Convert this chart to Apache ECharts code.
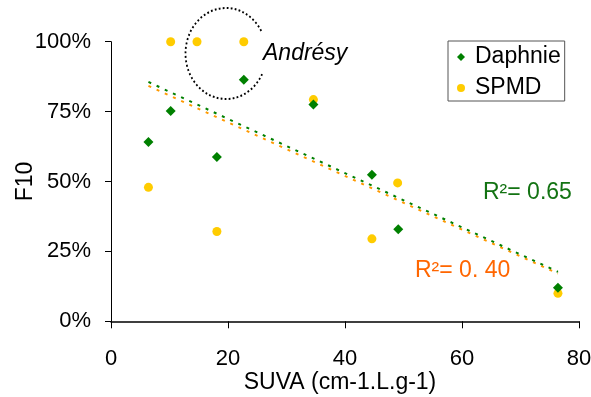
<!DOCTYPE html>
<html>
<head>
<meta charset="utf-8">
<script src="https://cdn.jsdelivr.net/npm/echarts@6/dist/echarts.min.js"></script>
<style>
html,body{margin:0;padding:0;background:#fff;}
#chart{width:591px;height:397px;}
</style>
</head>
<body>
<div id="chart"></div>
<script>
// Data
var daphnieX = [6.4, 10.2, 18.1, 22.7, 34.6, 44.6, 49.1, 76.4];
var daphnieY = [64.1, 75.2, 58.8, 86.4, 77.5, 52.4, 32.9, 12.0];
var spmdX = [6.4, 10.2, 14.7, 22.7, 18.1, 34.6, 44.6, 49.0, 76.4];
var spmdY = [47.9, 100, 100, 100, 32.1, 79.3, 29.5, 49.5, 10.0];
// trend line end points
var trendDaphnieX = [6.4, 76.4];
var trendDaphnieY = [85.6, 17.7];
var trendSpmdX = [6.4, 76.4];
var trendSpmdY = [84.2, 17.1];
var xTicks = [0, 20, 40, 60, 80];
var yTicks = [0, 25, 50, 75, 100];
var seriesNames = ['Daphnie', 'SPMD'];
var r2Labels = ['R²= 0.65', 'R²= 0. 40'];
var annotation = 'Andrésy';

function pairs(xs, ys) { return xs.map(function (x, i) { return [x, ys[i]]; }); }

var FONT = '"Liberation Sans", Arial, sans-serif';
var chart = echarts.init(document.getElementById('chart'), null, {renderer: 'canvas'});
chart.setOption({
  animation: false,
  backgroundColor: '#fff',
  grid: {left: 111, right: 12, top: 41.7, bottom: 75.7, containLabel: false, outerBoundsMode: 'none'},
  xAxis: {
    type: 'value', min: xTicks[0], max: xTicks[xTicks.length - 1], interval: 20,
    name: 'SUVA (cm-1.L.g-1)', nameLocation: 'middle', nameGap: 50, nameMoveOverlap: false,
    nameTextStyle: {fontFamily: FONT, fontSize: 23, color: '#000', padding: [0, 10, 0, 0]},
    axisLine: {lineStyle: {color: '#000', width: 1.5}},
    axisTick: {show: true, inside: false, length: 7, lineStyle: {color: '#000'}},
    axisLabel: {fontFamily: FONT, fontSize: 22, color: '#000', margin: 27},
    splitLine: {show: false}
  },
  yAxis: {
    type: 'value', min: yTicks[0], max: yTicks[yTicks.length - 1], interval: 25,
    name: 'F10', nameLocation: 'middle', nameGap: 74, nameMoveOverlap: false,
    nameTextStyle: {fontFamily: FONT, fontSize: 23, color: '#000'},
    axisLine: {show: true, lineStyle: {color: '#000', width: 1}},
    axisTick: {show: true, inside: false, length: 6, lineStyle: {color: '#000'}},
    axisLabel: {fontFamily: FONT, fontSize: 22, color: '#000', margin: 20,
      formatter: function (v) { return v + '%'; }},
    splitLine: {show: false}
  },
  legend: {
    data: [{name: seriesNames[0], icon: 'diamond'}, {name: seriesNames[1], icon: 'circle'}],
    orient: 'vertical', left: 448, top: 41,
    itemWidth: 8, itemHeight: 8, itemGap: 7,
    padding: [4, 4, 1, 9],
    borderColor: '#555', borderWidth: 1,
    itemStyle: {opacity: 1},
    textStyle: {fontFamily: FONT, fontSize: 23, color: '#000', lineHeight: 24, padding: [0, 0, 0, 5]}
  },
  series: [
    {
      name: 'trendSpmd', type: 'line', data: pairs(trendSpmdX, trendSpmdY),
      showSymbol: false, symbol: 'none', silent: true,
      lineStyle: {color: '#FF9900', width: 2, type: [3, 6], dashOffset: 0}
    },
    {
      name: 'trendDaphnie', type: 'line', data: pairs(trendDaphnieX, trendDaphnieY),
      showSymbol: false, symbol: 'none', silent: true,
      lineStyle: {color: '#008000', width: 2, type: [3, 6], dashOffset: 0}
    },
    {
      name: seriesNames[1], type: 'scatter', symbol: 'circle', symbolSize: 9,
      data: pairs(spmdX, spmdY), itemStyle: {color: '#FFCC00', opacity: 1}
    },
    {
      name: seriesNames[0], type: 'scatter', symbol: 'diamond', symbolSize: 10,
      data: pairs(daphnieX, daphnieY), itemStyle: {color: '#008000', opacity: 1}
    }
  ],
  graphic: [
    {
      type: 'arc', x: 226, y: 53.5, scaleX: 0.89, scaleY: 1,
      shape: {cx: 0, cy: 0, r: 45.5, startAngle: 0.47, endAngle: Math.PI * 2 - 0.47, clockwise: true},
      style: {stroke: '#000', fill: null, lineWidth: 2, lineDash: [2, 2.5], strokeNoScale: true}
    },
    {
      type: 'text', x: 263, y: 54,
      style: {text: annotation, fontFamily: FONT, fontSize: 23, fontStyle: 'italic', fill: '#000',
        textVerticalAlign: 'middle', verticalAlign: 'middle'}
    },
    {
      type: 'text', x: 483, y: 193,
      style: {text: r2Labels[0], fontFamily: FONT, fontSize: 23, fill: '#137313',
        textVerticalAlign: 'middle', verticalAlign: 'middle'}
    },
    {
      type: 'text', x: 415, y: 271,
      style: {text: r2Labels[1], fontFamily: FONT, fontSize: 23, fill: '#FF6600',
        textVerticalAlign: 'middle', verticalAlign: 'middle'}
    }
  ]
});
</script>
</body>
</html>
